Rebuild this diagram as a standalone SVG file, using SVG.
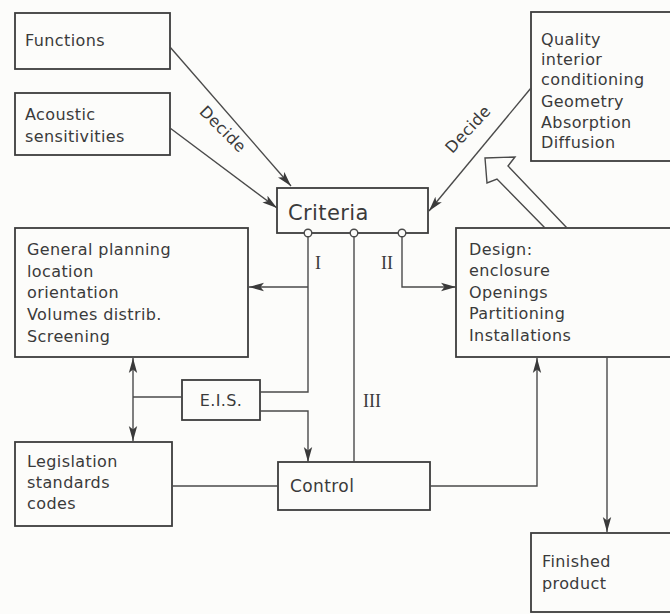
<svg xmlns="http://www.w3.org/2000/svg" width="670" height="614" viewBox="0 0 670 614">
  <style>
    .box { fill: none; stroke: #3c3c3c; stroke-width: 1.8; }
    .lbl { font-family: "DejaVu Sans", "Liberation Sans", sans-serif; font-size: 16px; fill: #3a3a3a; letter-spacing: 0.4px; }
    .num { font-family: "Liberation Serif", serif; font-size: 18px; fill: #3a3a3a; text-anchor: middle; }
    .wire { fill: none; stroke: #4a4a4a; stroke-width: 1.4; }
    .dot { fill: #fcfcfa; stroke: #4a4a4a; stroke-width: 1.4; }
  </style>
  <defs>
    <marker id="arr" markerUnits="userSpaceOnUse" markerWidth="16" markerHeight="10" refX="15" refY="5" orient="auto">
      <path d="M0,0.8 L15,5 L0,9.2 L3.5,5 z" fill="#3a3a3a"/>
    </marker>
  </defs>

  <rect width="670" height="614" fill="#fcfcfa"/>

  <g id="functions">
    <rect class="box" x="15" y="13" width="155" height="56"/>
    <text class="lbl" x="25" y="46">Functions</text>
  </g>

  <g id="acoustic">
    <rect class="box" x="15" y="93" width="155" height="62"/>
    <text class="lbl" x="25" y="120">Acoustic</text>
    <text class="lbl" x="25" y="142">sensitivities</text>
  </g>

  <g id="quality">
    <rect class="box" x="531" y="12" width="150" height="149"/>
    <text class="lbl" x="541" y="45">Quality</text>
    <text class="lbl" x="541" y="65">interior</text>
    <text class="lbl" x="541" y="85">conditioning</text>
    <text class="lbl" x="541" y="107">Geometry</text>
    <text class="lbl" x="541" y="128">Absorption</text>
    <text class="lbl" x="541" y="148">Diffusion</text>
  </g>

  <g id="criteria">
    <rect class="box" x="277" y="188" width="151" height="45"/>
    <text class="lbl" x="288" y="220" style="font-size:21px">Criteria</text>
  </g>

  <g id="general-planning">
    <rect class="box" x="15" y="228" width="233" height="129"/>
    <text class="lbl" x="27" y="255">General planning</text>
    <text class="lbl" x="27" y="277">location</text>
    <text class="lbl" x="27" y="298">orientation</text>
    <text class="lbl" x="27" y="320">Volumes distrib.</text>
    <text class="lbl" x="27" y="342">Screening</text>
  </g>

  <g id="design">
    <rect class="box" x="456" y="228" width="225" height="129"/>
    <text class="lbl" x="469" y="255">Design:</text>
    <text class="lbl" x="469" y="276">enclosure</text>
    <text class="lbl" x="469" y="298">Openings</text>
    <text class="lbl" x="469" y="319">Partitioning</text>
    <text class="lbl" x="469" y="341">Installations</text>
  </g>

  <g id="eis">
    <rect class="box" x="182" y="380" width="78" height="40"/>
    <text class="lbl" x="221" y="406" text-anchor="middle">E.I.S.</text>
  </g>

  <g id="legislation">
    <rect class="box" x="15" y="442" width="157" height="84"/>
    <text class="lbl" x="27" y="467">Legislation</text>
    <text class="lbl" x="27" y="488">standards</text>
    <text class="lbl" x="27" y="509">codes</text>
  </g>

  <g id="control">
    <rect class="box" x="278" y="462" width="152" height="48"/>
    <text class="lbl" x="290" y="492" style="font-size:17px">Control</text>
  </g>

  <g id="finished-product">
    <rect class="box" x="531" y="533" width="150" height="79"/>
    <text class="lbl" x="542" y="567">Finished</text>
    <text class="lbl" x="542" y="589">product</text>
  </g>

  <g id="connectors">
    <!-- decision inputs into Criteria -->
    <line class="wire" x1="170" y1="47" x2="291" y2="186" marker-end="url(#arr)"/>
    <line class="wire" x1="170" y1="128" x2="277" y2="208" marker-end="url(#arr)"/>
    <line class="wire" x1="531" y1="88" x2="429" y2="211" marker-end="url(#arr)"/>
    <text class="lbl" x="0" y="0" text-anchor="middle" transform="translate(219,133) rotate(45)" style="font-size:16px">Decide</text>
    <text class="lbl" x="0" y="0" text-anchor="middle" transform="translate(472,133) rotate(-47)" style="font-size:16px">Decide</text>

    <!-- hollow feedback arrow from Design up to Quality -->
    <path class="wire" d="M545,228 L497,179 L487,183 L485,158 L515,157 L508,166 L567,228" stroke-linejoin="miter"/>

    <!-- branch I -->
    <path class="wire" d="M308,237 L308,392 L260,392"/>
    <line class="wire" x1="308" y1="287" x2="249" y2="287" marker-end="url(#arr)"/>
    <text class="num" x="318" y="269">I</text>

    <!-- branch II -->
    <path class="wire" d="M402,237 L402,287 L456,287" marker-end="url(#arr)"/>
    <text class="num" x="387" y="269">II</text>

    <!-- branch III -->
    <line class="wire" x1="354" y1="237" x2="354" y2="462"/>
    <text class="num" x="372" y="407">III</text>

    <circle class="dot" cx="308" cy="233" r="3.8"/>
    <circle class="dot" cx="354" cy="233" r="3.8"/>
    <circle class="dot" cx="402" cy="233" r="3.8"/>

    <!-- E.I.S. links -->
    <path class="wire" d="M260,411 L308,411 L308,462" marker-end="url(#arr)"/>
    <line class="wire" x1="182" y1="397" x2="133" y2="397"/>
    <line class="wire" x1="133" y1="397" x2="133" y2="358" marker-end="url(#arr)"/>
    <line class="wire" x1="133" y1="397" x2="133" y2="441" marker-end="url(#arr)"/>

    <!-- Control links -->
    <line class="wire" x1="172" y1="486" x2="278" y2="486"/>
    <path class="wire" d="M430,486 L537,486 L537,358" marker-end="url(#arr)"/>

    <!-- Design to finished product -->
    <line class="wire" x1="607" y1="357" x2="607" y2="532" marker-end="url(#arr)"/>
  </g>
</svg>
